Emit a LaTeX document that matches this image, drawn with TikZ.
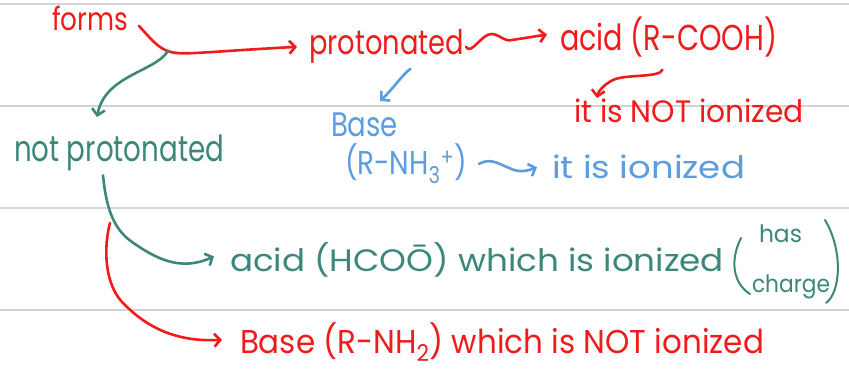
\documentclass[tikz,border=0pt]{standalone}
\usepackage{fontspec}
\setmainfont{Poppins}
\usetikzlibrary{arrows.meta}
\definecolor{penred}{HTML}{F01B1B}
\definecolor{pengreen}{HTML}{3C877B}
\definecolor{penblue}{HTML}{5C9CE0}
\definecolor{ruleline}{HTML}{D4D4D4}
% text at a given size (pt), squeezed or stretched sideways to a given width (pt)
\newcommand{\fitw}[3]{{\fontsize{#2}{#2}\selectfont\resizebox{#1pt}{\height}{#3}}}
\begin{document}
\begin{tikzpicture}[x=1pt,y=-1pt,
  word/.style={anchor=base west, inner sep=0pt, outer sep=2pt},
  pen/.style={line width=2.6pt, line cap=round, line join=round},
  tip/.style={-{Straight Barb[length=6pt,width=13pt]}},
]
\useasboundingbox (0,0) rectangle (849,374);
\fill[white] (0,0) rectangle (849,374);
% ruled paper
\foreach \yy in {4,106,208,310}
  \draw[ruleline, line width=2pt] (0,\yy) -- (849,\yy);

% words
\node[word,text=penred]   (forms)  at (50,31)   {\fitw{76}{32}{forms}};
\node[word,text=penred]   (prot)   at (307,55)  {\fitw{155}{34}{protonated}};
\node[word,text=penred]   (acidA)  at (558,51)  {\fitw{217}{36}{acid (R-COOH)}};
\node[word,text=penred]   (notion) at (572,123) {\fitw{230}{31}{it is NOT ionized}};
\node[word,text=penblue]  (baseA)  at (329,137) {\fitw{67}{34}{Base}};
\node[word,text=penblue]  (rnh3)   at (343,175) {\fitw{122}{33}{(R-NH\textsubscript{3}\textsuperscript{+})}};
\node[word,text=penblue]  (ion)    at (550,179) {\fitw{193}{31}{it is ionized}};
\node[word,text=pengreen] (notp)   at (12,162)  {\fitw{210}{36}{not protonated}};
\node[word,text=pengreen] (acidB)  at (228,272) {\fitw{494}{31}{acid (HCO\={O}) which is ionized}};
\node[word,text=pengreen] (has)    at (757,243) {\fitw{43}{24}{has}};
\node[word,text=pengreen] (charge) at (750,292) {\fitw{78}{24}{charge}};
\node[word,text=penred]   (baseB)  at (238,353) {\fitw{524}{33}{Base (R-NH\textsubscript{2}) which is NOT ionized}};

% brackets around "has charge"
\draw[pen,pengreen,line width=2pt] (741,238) .. controls (729,262) and (734,284) .. (750,294);
\draw[pen,pengreen,line width=2pt] (825,220) .. controls (843,250) and (841,292) .. (826,303);

% forms -> protonated, with a branch to not protonated
\coordinate (split) at (168,51);
\draw[pen,penred,tip] ([shift={(9,7)}]forms.east) .. controls (150,38) and (158,48) .. (split)
  .. controls (180,56) and (200,52) .. ([xshift=-10]prot.west);
\draw[pen,pengreen,tip] (split) .. controls (155,72) and (105,75) .. (97,117);

% protonated -> acid (R-COOH)
\draw[pen,penred,tip] (prot.east) .. controls (471,56) and (482,33) .. (492,34)
  .. controls (501,35) and (504,42) .. (512,40) -- ([shift={(-11,-3)}]acidA.west);
% acid -> it is NOT ionized
\draw[pen,penred,tip] ([shift={(-6,10)}]acidA.south) .. controls (660,78) and (625,74) .. (613,80)
  .. controls (603,85) and (598,92) .. (597,98);

% protonated -> Base
\draw[pen,penblue,tip] ([shift={(24,3)}]prot.south) .. controls (402,75) and (392,90) .. (380,101);
% (R-NH3+) -> it is ionized
\draw[pen,penblue,tip] ([xshift=10]rnh3.east) .. controls (490,158) and (497,163) .. (507,167)
  .. controls (515,171) and (522,173) .. ([xshift=-13]ion.west);

% not protonated -> acid (HCOO-)
\draw[pen,pengreen,tip] ([shift={(-16,2)}]notp.south) .. controls (106,205) and (112,228) .. (132,242)
  .. controls (155,258) and (180,272) .. ([xshift=-14,yshift=4]acidB.west);
% not protonated -> Base (R-NH2)
\draw[pen,penred,tip] (110,223) .. controls (104,245) and (103,285) .. (125,305)
  .. controls (150,330) and (180,342) .. ([xshift=-16,yshift=2]baseB.west);
\end{tikzpicture}
\end{document}
